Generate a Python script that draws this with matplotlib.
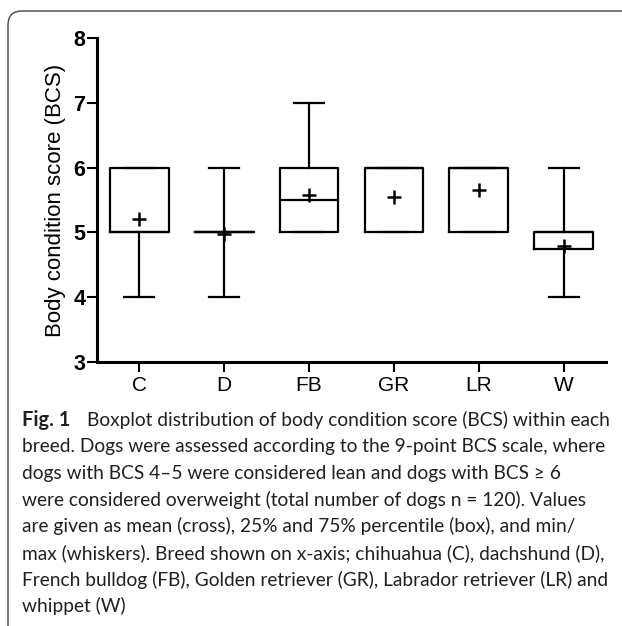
import matplotlib
matplotlib.use('Agg')
import matplotlib.pyplot as plt
from matplotlib.patches import FancyBboxPatch
from matplotlib.transforms import IdentityTransform

breeds = ['C', 'D', 'FB', 'GR', 'LR', 'W']
bcs_min = [4, 4, 5, 5, 5, 4]
bcs_q1 = [5, 5, 5, 5, 5, 4.75]
bcs_median = [5, 5, 5.5, 6, 6, 5]
bcs_q3 = [6, 5, 6, 6, 6, 5]
bcs_max = [6, 6, 7, 6, 6, 6]
bcs_mean = [5.21, 4.97, 5.58, 5.55, 5.65, 4.79]
y_ticks = [3, 4, 5, 6, 7, 8]

caption_bold = 'Fig. 1'
caption_lines = [
    'Boxplot distribution of body condition score (BCS) within each',
    'breed. Dogs were assessed according to the 9-point BCS scale, where',
    'dogs with BCS 4\u20135 were considered lean and dogs with BCS \u2265 6',
    'were considered overweight (total number of dogs n = 120). Values',
    'are given as mean (cross), 25% and 75% percentile (box), and min/',
    'max (whiskers). Breed shown on x-axis; chihuahua (C), dachshund (D),',
    'French bulldog (FB), Golden retriever (GR), Labrador retriever (LR) and',
    'whippet (W)',
]

stats = []
for i, b in enumerate(breeds):
    stats.append({'label': b, 'whislo': bcs_min[i], 'q1': bcs_q1[i], 'med': bcs_median[i],
                  'q3': bcs_q3[i], 'whishi': bcs_max[i], 'mean': bcs_mean[i], 'fliers': []})

W, H = 622, 626
fig = plt.figure(figsize=(W / 100, H / 100), dpi=100)
ax = fig.add_axes([97 / W, 1 - 362 / H, (606 - 97) / W, (362 - 38) / H])

lw = 1.6
ax.bxp(stats, positions=range(len(breeds)), widths=0.69, showmeans=True, showfliers=False,
       boxprops=dict(color='black', linewidth=lw),
       whiskerprops=dict(color='black', linewidth=lw),
       capprops=dict(color='black', linewidth=lw),
       medianprops=dict(color='black', linewidth=lw),
       meanprops=dict(marker='+', markersize=10, markeredgewidth=1.8, markeredgecolor='black'),
       capwidths=0.355)

ax.set_xlim(-0.5, 5.5)
ax.set_ylim(3, 8)
ax.set_yticks(y_ticks)
ax.set_yticklabels([str(v) for v in y_ticks], fontsize=15.5, fontweight='bold',
                   family='Liberation Sans')
ax.set_xticks(range(len(breeds)))
ax.set_xticklabels(breeds, fontsize=15, family='Liberation Sans')
ax.set_ylabel('Body condition score (BCS)', fontsize=16, family='Liberation Sans', labelpad=5)
ax.spines['top'].set_visible(False)
ax.spines['right'].set_visible(False)
ax.spines['left'].set_linewidth(2.2)
ax.spines['bottom'].set_linewidth(2.2)
ax.tick_params(axis='both', width=1.5, length=7, color='black')
ax.tick_params(axis='y', pad=1.5)
ax.tick_params(axis='x', pad=3)

# frame around figure with rounded top-left corner
frame = FancyBboxPatch((8, -20), 700, H - 11 + 20, boxstyle='round,pad=0,rounding_size=14',
                       transform=IdentityTransform(), fill=False, edgecolor='#444444',
                       linewidth=1.0)
fig.patches.append(frame)

cap_font = 'Lato'
cap_size = 13.8
y0 = 420
for i, line in enumerate(caption_lines):
    y = 1 - (y0 + i * 26.6) / H
    x = 87 if i == 0 else 22
    fig.text(x / W, y, line, fontsize=cap_size, family=cap_font, va='center', color='#231f20')
fig.text(22 / W, 1 - y0 / H, caption_bold, fontsize=cap_size + 0.6, family=cap_font,
         fontweight='bold', va='center', color='#231f20')

fig.savefig('out.png', dpi=100)
